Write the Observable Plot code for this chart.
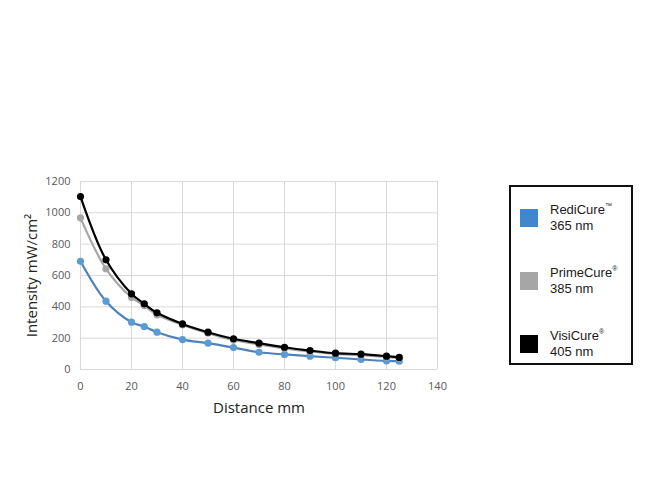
<!DOCTYPE html>
<html>
<head>
<meta charset="utf-8">
<script src="https://cdn.jsdelivr.net/npm/d3@7"></script>
<script src="https://cdn.jsdelivr.net/npm/@observablehq/plot@0.6"></script>
<style>
  html, body { margin: 0; padding: 0; background: #fff; }
  #wrap { position: relative; width: 650px; height: 497px; }
  #legend { position: absolute; left: 509px; top: 185px; width: 124px; height: 180px;
    border: 2px solid #111; box-sizing: border-box; font-family: "Liberation Sans", Arial, sans-serif; }
  .item { position: absolute; left: 9px; display: flex; align-items: center; }
  .sw { width: 18px; height: 18px; margin-right: 12px; }
  .lab { font-size: 13px; line-height: 16px; color: #1a1a1a; }
  .lab sup { font-size: 7px; vertical-align: 6px; line-height: 0; }
</style>
</head>
<body>
<div id="wrap"><div id="chart"></div><div id="legend"></div></div>
<script>
const distance = [0, 10, 20, 25, 30, 40, 50, 60, 70, 80, 90, 100, 110, 120, 125];
const rediCure = [691, 436, 302, 274, 238, 191, 168, 140, 110, 96, 85, 75, 64, 55, 53];
const primeCure = [968, 643, 461, 408, 349, 285, 232, 188, 160, 135, 115, 100, 92, 80, 73];
const visiCure = [1104, 700, 483, 419, 362, 291, 238, 196, 168, 142, 121, 104, 98, 85, 77];
const seriesNames = ["RediCure", "PrimeCure", "VisiCure"];
const seriesMarks = ["™", "®", "®"];
const seriesWavelengths = ["365 nm", "385 nm", "405 nm"];
const lineColors = ["#4f81bd", "#a6a6a6", "#000000"];
const dotColors = ["#5b9bd5", "#a6a6a6", "#000000"];
const swatchColors = ["#3f88d0", "#a6a6a6", "#000000"];
const xTicks = [0, 20, 40, 60, 80, 100, 120, 140];
const yTicks = [0, 200, 400, 600, 800, 1000, 1200];

const allSeries = [rediCure, primeCure, visiCure];
const rows = [];
allSeries.forEach((vals, s) => vals.forEach((v, i) => rows.push({series: seriesNames[s], idx: s, x: distance[i], y: v})));

const marks = [
  Plot.gridX(xTicks, {stroke: "#d9d9d9", strokeOpacity: 1, strokeWidth: 1}),
  Plot.gridY(yTicks, {stroke: "#d9d9d9", strokeOpacity: 1, strokeWidth: 1}),
  Plot.axisX(xTicks, {tickSize: 0, tickPadding: 13, fill: "#595959", fontSize: 11, label: null, tickFormat: d => String(d)}),
  Plot.axisY(yTicks, {tickSize: 0, tickPadding: 10, fill: "#595959", fontSize: 11, label: null, tickFormat: d => String(d)}),
];
seriesNames.forEach((name, s) => {
  const d = rows.filter(r => r.idx === s);
  marks.push(Plot.line(d, {x: "x", y: "y", stroke: lineColors[s], strokeWidth: 2.2, curve: "catmull-rom"}));
  marks.push(Plot.dot(d, {x: "x", y: "y", fill: dotColors[s], r: 3.6, stroke: "none"}));
});
marks.push(Plot.text(["Distance mm"], {frameAnchor: "bottom", dy: 33, fontSize: 15, fill: "#222", textAnchor: "middle", lineAnchor: "top"}));
marks.push(Plot.text(["Intensity mW/cm²"], {frameAnchor: "left", dx: -48, rotate: -90, fontSize: 15, fill: "#222", textAnchor: "middle"}));

const chart = Plot.plot({
  width: 650, height: 497,
  marginLeft: 80, marginRight: 213, marginTop: 181, marginBottom: 128,
  x: {domain: [0, 140]},
  y: {domain: [0, 1200]},
  style: {fontFamily: "'Open Sans', 'Noto Sans', sans-serif", background: "#fff"},
  marks
});
document.getElementById("chart").appendChild(chart);

const legend = document.getElementById("legend");
const tops = [15, 78, 141];
seriesNames.forEach((n, s) => {
  const it = document.createElement("div");
  it.className = "item";
  it.style.top = tops[s] + "px";
  it.innerHTML = `<div class="sw" style="background:${swatchColors[s]}"></div><div class="lab">${n}<sup>${seriesMarks[s]}</sup><br>${seriesWavelengths[s]}</div>`;
  legend.appendChild(it);
});
</script>
</body>
</html>
